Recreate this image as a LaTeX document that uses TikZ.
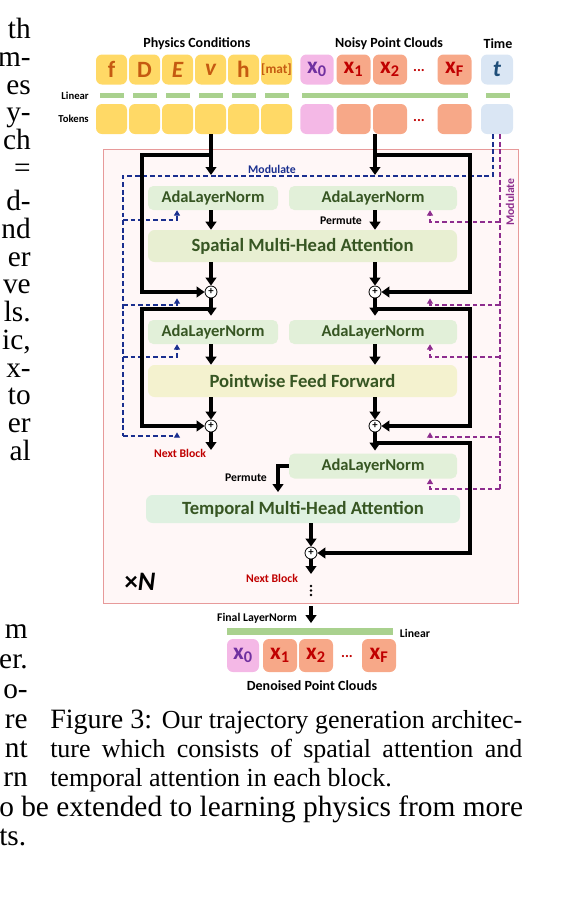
\documentclass[tikz,border=0pt]{standalone}
\usepackage{fontspec}
\setmainfont{Liberation Serif}
\newfontfamily\diagfont{Carlito}
\usepackage{tikz}
\usetikzlibrary{positioning, arrows.meta, calc}

\newcommand\diagsize[1]{\diagfont\bfseries\fontsize{#1}{#1}\selectfont}

\definecolor{condfill}{HTML}{FFD966}
\definecolor{condtext}{HTML}{C55A11}
\definecolor{pinkfill}{HTML}{F4B8E6}
\definecolor{pinktext}{HTML}{7030A0}
\definecolor{salmonfill}{HTML}{F7A888}
\definecolor{salmontext}{HTML}{C00000}
\definecolor{timefill}{HTML}{DAE6F4}
\definecolor{timetext}{HTML}{1F4E79}
\definecolor{barfill}{HTML}{A9D18E}
\definecolor{adafill}{HTML}{E2F0D9}
\definecolor{spatfill}{HTML}{E8EFD2}
\definecolor{ffnfill}{HTML}{F4F2CF}
\definecolor{tempfill}{HTML}{DFF1E1}
\definecolor{darkgreen}{HTML}{375623}
\definecolor{blockfill}{HTML}{FFF7F7}
\definecolor{blockline}{HTML}{E79A9A}
\definecolor{modblue}{HTML}{1A2F8F}
\definecolor{modpurple}{HTML}{8E2D8E}
\definecolor{nextred}{HTML}{C00000}

\begin{document}
\begin{tikzpicture}[
  x=0.75pt, y=-0.75pt,
  tok/.style={rounded corners=4.5pt, minimum width=23.25pt, minimum height=22.5pt, inner sep=0pt, font=\diagsize{17.5}},
  cond/.style={tok, fill=condfill, text=condtext},
  pcfirst/.style={tok, fill=pinkfill, text=pinktext, minimum width=25pt},
  pcrest/.style={tok, fill=salmonfill, text=salmontext, minimum width=25.5pt},
  pcdots/.style={inner sep=0pt, text=salmontext, font=\diagsize{11}},
  timetok/.style={tok, fill=timefill, text=timetext, minimum width=24pt},
  linbar/.style={fill=barfill, minimum height=4pt, inner sep=0pt},
  hdr/.style={inner sep=0pt, font=\diagsize{10.5}},
  sidelbl/.style={inner sep=0pt, font=\diagsize{8}},
  note/.style={inner sep=0pt, font=\diagsize{8.8}},
  blockbox/.style={draw=blockline, fill=blockfill, line width=0.7pt, inner sep=0pt},
  adabox/.style={fill=adafill, rounded corners=4pt, inner sep=0pt, minimum height=18pt, text=darkgreen, font=\diagsize{12.4}},
  attnbox/.style={rounded corners=5pt, inner sep=0pt, text=darkgreen, font=\diagsize{14}},
  sumnode/.style={circle, draw, line width=0.6pt, fill=white, minimum size=9pt, inner sep=0pt, font=\diagsize{8}},
  flow/.style={-{Triangle[width=8pt,length=6pt]}, line width=2.3pt},
  modline/.style={dash pattern=on 3.5pt off 2.2pt, line width=0.9pt, -{Triangle[width=4.5pt,length=4pt]}},
  bodytxt/.style={inner sep=0pt, font=\fontsize{22}{24}\selectfont}
]
\useasboundingbox (0,0) rectangle (581,901);

% block frame
\node[blockbox, minimum width=311.25pt, minimum height=340.5pt] (block) at (310.5,376) {};

% inputs
\node[hdr] (physhdr) at (197,44) {Physics Conditions};
\node[hdr] (cloudhdr) at (389,44) {Noisy Point Clouds};
\node[hdr] (timehdr) at (498,44) {Time};
\node[sidelbl, anchor=east] (linlbl) at (89,95.5) {Linear};
\node[sidelbl, anchor=east] (toklbl) at (89,119) {Tokens};

\foreach \lab/\xx [count=\i] in {f/111.5, D/144.5, {\itshape E}/177.5, {\itshape v}/210.5, h/243.5, {\fontsize{10}{10}\selectfont[mat]}/276.5} {
  \node[cond] (cond\i) at (\xx,69.5) {\lab};
  \node[linbar, minimum width=18pt] (clin\i) at (\xx,95.5) {};
  \node[cond] (ctok\i) at (\xx,119) {};
}

\node[pcfirst] (pc0) at (317,69.5) {x\textsubscript{0}};
\node[pcrest] (pc1) at (353.5,69.5) {x\textsubscript{1}};
\node[pcrest] (pc2) at (390,69.5) {x\textsubscript{2}};
\node[pcdots] (pcdots) at (419,71) {...};
\node[pcrest] (pcF) at (454.5,69.5) {x\textsubscript{F}};
\node[linbar, minimum width=124.5pt] (pcbar) at (385,95.5) {};
\node[pcfirst] (pt0) at (317,119) {};
\node[pcrest] (pt1) at (353.5,119) {};
\node[pcrest] (pt2) at (390,119) {};
\node[pcdots] (ptdots) at (419,121) {...};
\node[pcrest] (ptF) at (454.5,119) {};

\node[timetok] (tt) at (497,69.5) {\itshape t};
\node[linbar, minimum width=18pt] (tbar) at (498,95.5) {};
\node[timetok] (ttok) at (497,119) {};

% transformer block
\node[adabox, minimum width=97.5pt] (adaL1) at (213,198) {AdaLayerNorm};
\node[adabox, minimum width=126pt] (adaR1) at (373,198) {AdaLayerNorm};
\node[attnbox, fill=spatfill, minimum width=231.75pt, minimum height=24pt] (spatial) at (302.5,246) {Spatial Multi-Head Attention};
\node[sumnode] (plusL1) at (211,292) {+};
\node[sumnode] (plusR1) at (375,292) {+};
\node[adabox, minimum width=97.5pt] (adaL2) at (213,332) {AdaLayerNorm};
\node[adabox, minimum width=126pt] (adaR2) at (373,332) {AdaLayerNorm};
\node[attnbox, fill=ffnfill, minimum width=231.75pt, minimum height=24pt] (ffn) at (302.5,381) {Pointwise Feed Forward};
\node[sumnode] (plusL2) at (211,426) {+};
\node[sumnode] (plusR2) at (375,426) {+};
\node[adabox, minimum width=126pt, minimum height=18.75pt] (adaT) at (373,466) {AdaLayerNorm};
\node[attnbox, fill=tempfill, minimum width=235.5pt, minimum height=21pt] (temporal) at (303,509) {Temporal Multi-Head Attention};
\node[sumnode] (plusT) at (311,553) {+};

\node[note, text=modblue] (modlblB) at (272,169) {Modulate};
\node[note, text=modpurple, rotate=90] (modlblP) at (510,202) {Modulate};
\node[note] (perm1) at (341,221) {Permute};
\node[note] (perm2) at (246,478) {Permute};
\node[note, text=nextred] (next1) at (180,453) {Next Block};
\node[note, text=nextred] (next2) at (272,578) {Next Block};
\node[inner sep=0pt, font=\diagsize{20}] (repN) at (140,582) {×\textit{N}};

% outputs
\node[note] (finlbl) at (257,618) {Final LayerNorm};
\node[linbar, minimum width=124.5pt, minimum height=5.25pt] (outbar) at (310,631.5) {};
\node[note] (linlbl2) at (415,633) {Linear};
\node[pcfirst, minimum height=24.75pt, minimum width=24pt] (out0) at (243,655.5) {x\textsubscript{0}};
\node[pcrest, minimum height=24.75pt] (out1) at (280,655.5) {x\textsubscript{1}};
\node[pcrest, minimum height=24.75pt] (out2) at (316,655.5) {x\textsubscript{2}};
\node[pcdots] (outdots) at (347,657) {...};
\node[pcrest, minimum height=24.75pt] (outF) at (379,655.5) {x\textsubscript{F}};
\node[hdr] (outlbl) at (312,686) {Denoised Point Clouds};

% helper points
\coordinate (colL) at (211,0);
\coordinate (colR) at (375,0);
\coordinate (outL) at (142,0);
\coordinate (outR) at (470,0);
\coordinate (inL) at (211,175);
\coordinate (inR) at (375,175);
\coordinate (skipL1) at (211,155);
\coordinate (skipR1) at (375,155);
\coordinate (skipL2) at (211,309);
\coordinate (skipR2) at (375,309);
\coordinate (skipR3) at (375,443);
\coordinate (nextL) at (211,450);
\coordinate (nextT) at (311,574);
\coordinate (permX) at (278,0);
\coordinate (finTop) at (311,606);
\coordinate (modB) at (493,176);
\coordinate (modBL) at (123,176);
\coordinate (modBx) at (177,0);
\coordinate (modP) at (500,0);
\coordinate (modPx) at (430,0);

% modulation
\draw[modline, modblue, -] (ttok.south -| modB) -- (modB) -- (modBL) -- ++(0,260);
\foreach \tgt/\yy in {adaL1/220, plusL1/305, adaL2/357, plusL2/436}
  \draw[modline, modblue] (123,\yy) -| (modBx |- \tgt.south);
\draw[modline, modpurple, -] (ttok.south -| modP) -- ++(0,355);
\foreach \tgt/\yy in {adaR1/222, plusR1/305, adaR2/357, plusR2/437, adaT/489}
  \draw[modline, modpurple] (500,\yy) -| (modPx |- \tgt.south);

% main flow
\draw[flow] (ctok4.south -| colL) -- (inL);
\draw[flow] (pt2.south -| colR) -- (inR);
\draw[flow] (adaL1.south -| colL) -- (spatial.north -| colL);
\draw[flow] (adaR1.south -| colR) -- (spatial.north -| colR);
\draw[flow] (spatial.south -| colL) -- (plusL1);
\draw[flow] (spatial.south -| colR) -- (plusR1);
\draw[flow, shorten >=3pt] (plusL1) -- (adaL2.north -| colL);
\draw[flow, shorten >=3pt] (plusR1) -- (adaR2.north -| colR);
\draw[flow] (adaL2.south -| colL) -- (ffn.north -| colL);
\draw[flow] (adaR2.south -| colR) -- (ffn.north -| colR);
\draw[flow] (ffn.south -| colL) -- (plusL2);
\draw[flow] (ffn.south -| colR) -- (plusR2);
\draw[flow] (plusL2) -- (nextL);
\draw[flow, shorten >=2pt] (plusR2) -- (adaT.north -| colR);
\draw[flow, shorten >=2pt] (adaT.west) -| (permX |- temporal.north);
\draw[flow] (temporal.south -| plusT) -- (plusT);
\draw[flow] (plusT) -- (nextT);
\foreach \k in {0,1,2}
  \fill (311,586+\k*4.5) circle (1.1pt);
\draw[flow, shorten >=3.5pt] (finTop) -- (outbar.north -| finTop);

% residual paths
\draw[flow] (skipL1) -| (outL |- plusL1) -- (plusL1);
\draw[flow] (skipR1) -| (outR |- plusR1) -- (plusR1);
\draw[flow] (skipL2) -| (outL |- plusL2) -- (plusL2);
\draw[flow] (skipR2) -| (outR |- plusR2) -- (plusR2);
\draw[flow] (skipR3) -| (outR |- plusT) -- (plusT);

% surrounding page text
\foreach \frag/\yy [count=\k] in {th/38, m-/66, es/94, y-/121, ch/149, =/177, d-/210, nd/238, er/266, ve/293, ls./321, {ic,}/349, x-/377, to/404, er/432, al/460}
  \node[bodytxt, anchor=base east] (fragU\k) at (31,\yy) {\frag};
\foreach \frag/\yy [count=\k] in {m/638, er./668, o-/698, re/728, nt/757, rn/786}
  \node[bodytxt, anchor=base east] (fragD\k) at (28,\yy) {\frag};

\node[anchor=base west, inner sep=0pt] (cap1) at (50,728) {\makebox[354pt][s]{\fontsize{21}{24}\selectfont Figure 3: \fontsize{19.5}{24}\selectfont Our trajectory generation architec-}};
\node[anchor=base west, inner sep=0pt] (cap2) at (50,757) {\makebox[354pt][s]{\fontsize{19.5}{24}\selectfont ture which consists of spatial attention and}};
\node[anchor=base west, inner sep=0pt, font=\fontsize{19.5}{24}\selectfont] (cap3) at (50,786) {temporal attention in each block.};
\node[bodytxt, anchor=base west] (bodyA) at (-1,816) {o be extended to learning physics from more};
\node[bodytxt, anchor=base west] (bodyB) at (-1,845) {ts.};
\end{tikzpicture}
\end{document}
